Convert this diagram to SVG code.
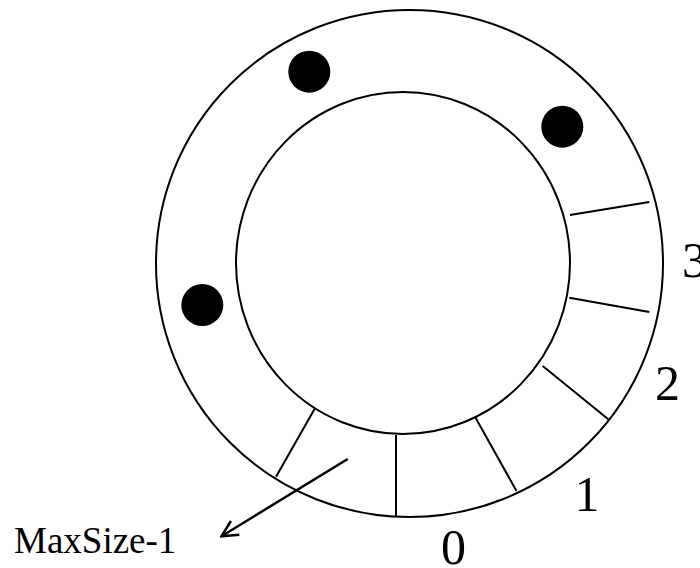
<svg xmlns="http://www.w3.org/2000/svg" width="700" height="568" viewBox="0 0 700 568">
<style>
.ring{fill:none;stroke:#000;stroke-width:2}
.div{stroke:#000;stroke-width:2;fill:none}
.dot{fill:#000}
.lbl{font-family:"Liberation Serif","Times New Roman",serif;fill:#000}
.num{font-size:50px}
.name{font-size:37px}
.arr{stroke:#000;stroke-width:2.5;fill:none}
</style>
<defs>
<marker id="head" viewBox="0 0 20 20" refX="18" refY="10" markerWidth="20" markerHeight="20" markerUnits="userSpaceOnUse" orient="auto">
<path d="M2,2 L18,10 L2,18" fill="none" stroke="#000" stroke-width="2.5"/>
</marker>
</defs>
<rect width="700" height="568" fill="#fff"/>
<g id="outer-ring"><circle class="ring" cx="409.5" cy="263.5" r="253.5"/></g>
<g id="inner-circle"><ellipse class="ring" cx="403" cy="263" rx="167" ry="171"/></g>
<g id="slots">
<line class="div" x1="570" y1="215" x2="649.3" y2="202"/>
<line class="div" x1="569.3" y1="297.7" x2="649.3" y2="312"/>
<line class="div" x1="542.7" y1="366" x2="608.3" y2="419.3"/>
<line class="div" x1="475.7" y1="418" x2="516.5" y2="491"/>
<line class="div" x1="396" y1="435" x2="396" y2="516.7"/>
<line class="div" x1="315" y1="408.3" x2="276" y2="476.7"/>
</g>
<g id="elements">
<circle class="dot" cx="309.3" cy="71.7" r="21"/>
<circle class="dot" cx="562.3" cy="126.7" r="21"/>
<circle class="dot" cx="202.3" cy="305" r="21"/>
</g>
<g id="labels">
<text class="lbl num" x="441" y="564">0</text>
<text class="lbl num" x="574.5" y="511">1</text>
<text class="lbl num" x="655" y="400">2</text>
<text class="lbl num" x="682" y="277">3</text>
<text class="lbl name" x="14" y="553">MaxSize-1</text>
</g>
<g id="connectors">
<line class="arr" x1="347.7" y1="459" x2="221.5" y2="536.2" marker-end="url(#head)"/>
</g>
</svg>
